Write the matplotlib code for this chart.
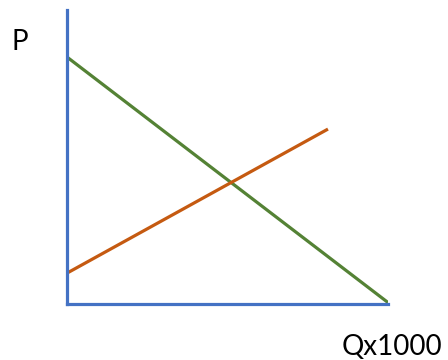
import matplotlib
matplotlib.use("Agg")
import matplotlib.pyplot as plt

# supply and demand lines (Q in thousands, P arbitrary units)
demand_q = [0, 10]
demand_p = [8.4, 0.05]
supply_q = [0, 8.13]
supply_p = [1.05, 5.95]

axis_color = "#4472C4"
demand_color = "#548235"
supply_color = "#C55A11"

plt.rcParams["font.family"] = ["Lato", "DejaVu Sans"]

fig = plt.figure(figsize=(4.48, 3.6), dpi=100)
ax = fig.add_axes([67 / 448, 56 / 360, 321 / 448, 294 / 360])

ax.plot(demand_q, demand_p, color=demand_color, lw=2.3, solid_capstyle="butt")
ax.plot(supply_q, supply_p, color=supply_color, lw=2.3, solid_capstyle="butt")

ax.set_xlim(0, 10)
ax.set_ylim(0, 10)
for s in ["top", "right"]:
    ax.spines[s].set_visible(False)
for s in ["left", "bottom"]:
    ax.spines[s].set_color(axis_color)
    ax.spines[s].set_linewidth(2.3)
ax.set_xticks([])
ax.set_yticks([])

fig.text(12 / 448, (360 - 50) / 360, "P", fontsize=20, va="baseline", ha="left")
fig.text(342 / 448, 5 / 360, "Qx1000", fontsize=20, va="baseline", ha="left")

fig.savefig("out.png", dpi=100)
